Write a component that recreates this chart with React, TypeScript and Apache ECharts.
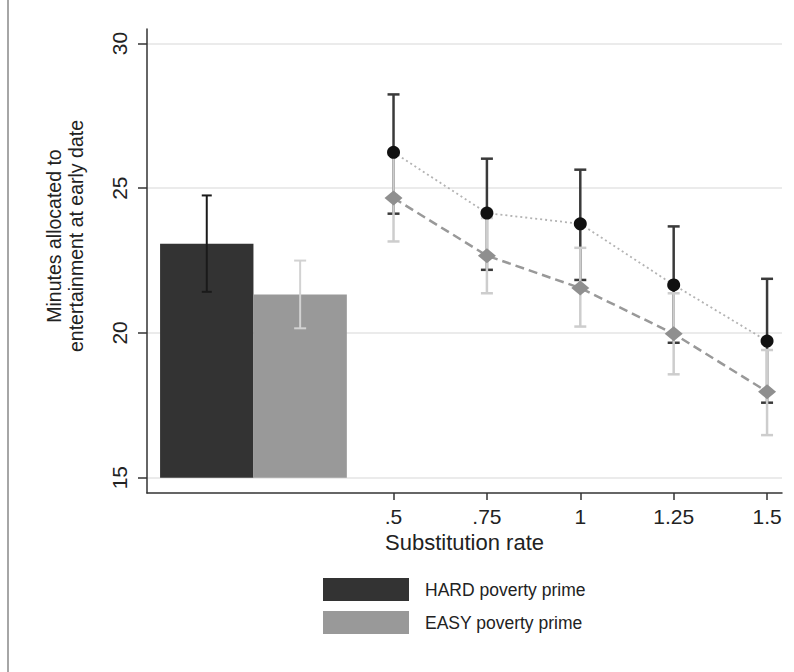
import React, { useEffect, useRef } from 'react';
import * as echarts from 'echarts';

// ---- data ----
const groupNames = ['HARD poverty prime', 'EASY poverty prime'];
const barX = [0, 0.25];
const barMeans = [23.08, 21.33];
const barLow = [21.42, 20.16];
const barHigh = [24.75, 22.5];

const rates = [0.5, 0.75, 1, 1.25, 1.5];
const rateLabels = ['.5', '.75', '1', '1.25', '1.5'];
const hardMeans = [26.24, 24.14, 23.77, 21.66, 19.72];
const hardLow = [24.12, 22.18, 21.83, 19.66, 17.59];
const hardHigh = [28.24, 26.02, 25.64, 23.68, 21.87];
const easyMeans = [24.66, 22.67, 21.55, 19.97, 17.97];
const easyLow = [23.16, 21.37, 20.22, 18.57, 16.47];
const easyHigh = [26.16, 23.97, 22.94, 21.37, 19.41];

const yTicks = [15, 20, 25, 30];
const yTitle = 'Minutes allocated to\nentertainment at early date';
const xTitle = 'Substitution rate';

// ---- style constants ----
const FONT = '"Liberation Sans", Arial, Helvetica, sans-serif';
const BAR_BASE = 15;
const BAR_WIDTH = 0.25;
const DARK = '#333333';
const LIGHT = '#999999';

const barRender = (color: string) => (params: any, api: any) => {
  const x = api.value(0);
  const v = api.value(1);
  const w = api.size([BAR_WIDTH, 0])[0];
  const top = api.coord([x, v]);
  const base = api.coord([x, BAR_BASE]);
  return {
    type: 'rect',
    shape: { x: top[0] - w / 2, y: top[1], width: w, height: base[1] - top[1] },
    style: { fill: color },
  };
};

const errRender = (color: string, cap: number, width: number) => (params: any, api: any) => {
  const x = api.value(0);
  const lo = api.coord([x, api.value(1)]);
  const hi = api.coord([x, api.value(2)]);
  const st = { stroke: color, lineWidth: width };
  return {
    type: 'group',
    children: [
      { type: 'line', shape: { x1: lo[0], y1: lo[1], x2: hi[0], y2: hi[1] }, style: st },
      { type: 'line', shape: { x1: lo[0] - cap / 2, y1: lo[1], x2: lo[0] + cap / 2, y2: lo[1] }, style: st },
      { type: 'line', shape: { x1: hi[0] - cap / 2, y1: hi[1], x2: hi[0] + cap / 2, y2: hi[1] }, style: st },
    ],
  };
};

export default function App() {
  const ref = useRef<HTMLDivElement>(null);

  useEffect(() => {
    if (!ref.current) return;
    const chart = echarts.init(ref.current, null, { renderer: 'svg' });

    const option: any = {
      animation: false,
      backgroundColor: '#ffffff',
      textStyle: { fontFamily: FONT },
      grid: { left: 147, right: 12, top: 29, bottom: 179, containLabel: false, outerBoundsMode: 'none' },
      xAxis: {
        type: 'value',
        min: -0.16,
        max: 1.54,
        name: xTitle,
        nameLocation: 'middle',
        nameGap: 38,
        nameTextStyle: { fontSize: 22, color: '#222', fontFamily: FONT },
        axisLine: { show: true, onZero: false, lineStyle: { color: '#333', width: 1.5 } },
        axisTick: { show: true, length: 7, customValues: rates, lineStyle: { color: '#333', width: 1.5 } },
        axisLabel: {
          customValues: rates,
          fontSize: 21,
          color: '#222',
          margin: 13,
          fontFamily: FONT,
          formatter: (v: number) => {
            const i = rates.findIndex((r) => Math.abs(r - v) < 1e-6);
            return i >= 0 ? rateLabels[i] : '';
          },
        },
        splitLine: { show: false },
      },
      yAxis: {
        type: 'value',
        min: 14.47,
        max: 30.5,
        axisLine: { show: true, onZero: false, lineStyle: { color: '#333', width: 1.5 } },
        axisTick: { show: true, length: 9, customValues: yTicks, lineStyle: { color: '#333', width: 1.5 } },
        axisLabel: {
          customValues: yTicks,
          rotate: 90,
          fontSize: 21,
          color: '#222',
          margin: 17,
          fontFamily: FONT,
        },
        splitLine: { show: true, lineStyle: { color: '#ebebeb', width: 2 } },
      },
      legend: {
        orient: 'vertical',
        left: 323,
        top: 578,
        padding: 0,
        itemGap: 10,
        itemWidth: 86,
        itemHeight: 23,
        icon: 'rect',
        selectedMode: false,
        textStyle: { fontSize: 17.5, color: '#222', fontFamily: FONT, padding: [0, 0, 0, 11] },
        data: [
          { name: groupNames[0], itemStyle: { color: DARK } },
          { name: groupNames[1], itemStyle: { color: LIGHT } },
        ],
      },
      graphic: [
        {
          type: 'line',
          shape: { x1: 8, y1: 0, x2: 8, y2: 672 },
          style: { stroke: '#a6a6a6', lineWidth: 2 },
        },
        {
          type: 'text',
          x: 65,
          y: 236,
          rotation: Math.PI / 2,
          style: {
            text: yTitle,
            fontSize: 19.5,
            fontFamily: FONT,
            fill: '#222',
            textAlign: 'center',
            textVerticalAlign: 'middle',
            lineHeight: 22,
          },
        },
      ],
      series: [
        {
          type: 'custom',
          name: groupNames[0],
          itemStyle: { color: DARK },
          renderItem: barRender(DARK),
          encode: { x: 0, y: 1 },
          data: [[barX[0], barMeans[0]]],
          z: 1,
        },
        {
          type: 'custom',
          name: groupNames[1],
          itemStyle: { color: LIGHT },
          renderItem: barRender(LIGHT),
          encode: { x: 0, y: 1 },
          data: [[barX[1], barMeans[1]]],
          z: 1,
        },
        {
          type: 'custom',
          name: 'HARD bar CI',
          renderItem: errRender('#1a1a1a', 10, 2),
          encode: { x: 0, y: [1, 2] },
          data: [[barX[0], barLow[0], barHigh[0]]],
          z: 2,
        },
        {
          type: 'custom',
          name: 'EASY bar CI',
          renderItem: errRender('#d2d2d2', 12, 2),
          encode: { x: 0, y: [1, 2] },
          data: [[barX[1], barLow[1], barHigh[1]]],
          z: 2,
        },
        {
          type: 'custom',
          name: 'HARD CI',
          renderItem: errRender('#3a3a3a', 12, 2.5),
          encode: { x: 0, y: [1, 2] },
          data: rates.map((r, i) => [r, hardLow[i], hardHigh[i]]),
          z: 3,
        },
        {
          type: 'custom',
          name: 'EASY CI',
          renderItem: errRender('#cdcdcd', 12, 2.5),
          encode: { x: 0, y: [1, 2] },
          data: rates.map((r, i) => [r, easyLow[i], easyHigh[i]]),
          z: 4,
        },
        {
          type: 'line',
          name: 'HARD means',
          data: rates.map((r, i) => [r, hardMeans[i]]),
          symbol: 'circle',
          symbolSize: 13,
          itemStyle: { color: '#111111' },
          lineStyle: { color: '#b3b3b3', width: 1.8, type: [2, 3] },
          z: 6,
        },
        {
          type: 'line',
          name: 'EASY means',
          data: rates.map((r, i) => [r, easyMeans[i]]),
          symbol: 'diamond',
          symbolSize: [18, 15],
          itemStyle: { color: '#8f8f8f' },
          lineStyle: { color: '#999999', width: 2.5, type: [9, 5] },
          z: 5,
        },
      ],
    };

    chart.setOption(option);
    return () => chart.dispose();
  }, []);

  return (
    <div
      ref={ref}
      style={{ position: 'fixed', left: 0, top: 0, width: 794, height: 672, background: '#fff' }}
    />
  );
}
